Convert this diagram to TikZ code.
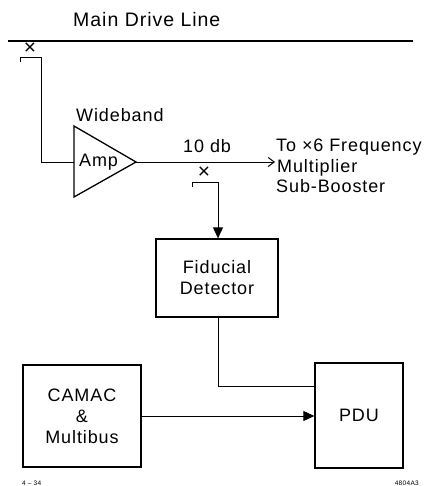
\documentclass[tikz,border=0pt]{standalone}
\usepackage{fontspec}
\setmainfont{Liberation Sans}[LetterSpace=5]
\usetikzlibrary{arrows.meta}
\begin{document}
\begin{tikzpicture}[x=1pt,y=-1pt,
  lbl/.style={inner sep=0pt,font=\fontsize{18}{21}\selectfont},
  tiny/.style={inner sep=0pt,font=\fontsize{6.5}{8}\selectfont},
  xmark/.style={inner sep=0pt,font=\fontsize{21}{22}\selectfont},
  blockbox/.style={draw,line width=1.3pt,inner sep=0pt,align=center,
    font=\fontsize{18}{21}\selectfont},
  wire/.style={line width=0.9pt},
  fillarrow/.style={wire,-{Triangle[length=11pt,width=10pt]}},
  openarrow/.style={wire,-{Straight Barb[length=6pt,width=9pt,line width=1pt]}}]
\useasboundingbox (0,0) rectangle (424,486);

% main drive line
\coordinate (mdlL) at (8,41);
\coordinate (mdlR) at (413,41);
\draw[line width=2.2pt] (mdlL) -- (mdlR);
\node[lbl,anchor=base west,font=\fontsize{19.5}{22}\selectfont] (mdltext) at (73,27) {Main Drive Line};

% first tap
\node[xmark] (x1) at (30,49) {×};
\coordinate (t1a) at (20,62);
\coordinate (t1b) at (20,57);
\coordinate (t1c) at (41,57);
\coordinate (ampin) at (74,162);
\coordinate (ampout) at (136,162);
\draw[wire] (t1a) -- (t1b) -- (t1c) -- (t1c |- ampin) -- (ampin);

% amplifier
\coordinate (ampT) at (74,126);
\coordinate (ampB) at (74,197);
\draw[line width=1.3pt,line join=miter] (ampT) -- (ampout) -- (ampB) -- cycle;
\node[lbl,anchor=base west] (wb) at (76,122) {Wideband};
\node[lbl,anchor=base west] (amp) at (79,167) {Amp};

% output
\coordinate (outend) at (275,162);
\draw[openarrow] (ampout) -- (outend);
\node[lbl,anchor=base west] (db) at (183,153) {10 db};
\node[lbl,anchor=base west] (to1) at (276,152) {To ×6 Frequency};
\node[lbl,anchor=base west] (to2) at (277,172) {Multiplier};
\node[lbl,anchor=base west] (to3) at (276,193) {Sub-Booster};

% boxes
\node[blockbox,minimum width=122pt,minimum height=78pt] (fid) at (217,278)
  {\fontsize{18}{26}\selectfont Fiducial\\Detector};
\node[blockbox,minimum width=118pt,minimum height=102pt] (camac) at (82,416)
  {\fontsize{18}{21.5}\selectfont CAMAC\\\&\\Multibus};
\node[blockbox,minimum width=88pt,minimum height=105pt] (pdu) at (359,415.5) {PDU};

% second tap
\node[xmark] (x2) at (204,173) {×};
\coordinate (t2a) at (192,187);
\coordinate (t2b) at (192,182);
\coordinate (t2c) at (218,182);
\draw[fillarrow] (t2a) -- (t2b) -- (t2c) -- (t2c |- fid.north);

% fiducial to PDU
\coordinate (fj) at (218,386);
\draw[wire] (fj |- fid.south) -- (fj) -- (fj -| pdu.west);

% CAMAC to PDU
\draw[fillarrow] (camac.east) -- (camac.east -| pdu.west);

% figure numbers
\node[tiny,anchor=base west] (n1) at (22,485) {4 – 34};
\node[tiny,anchor=base east] (n2) at (419,485) {4804A3};
\end{tikzpicture}
\end{document}
